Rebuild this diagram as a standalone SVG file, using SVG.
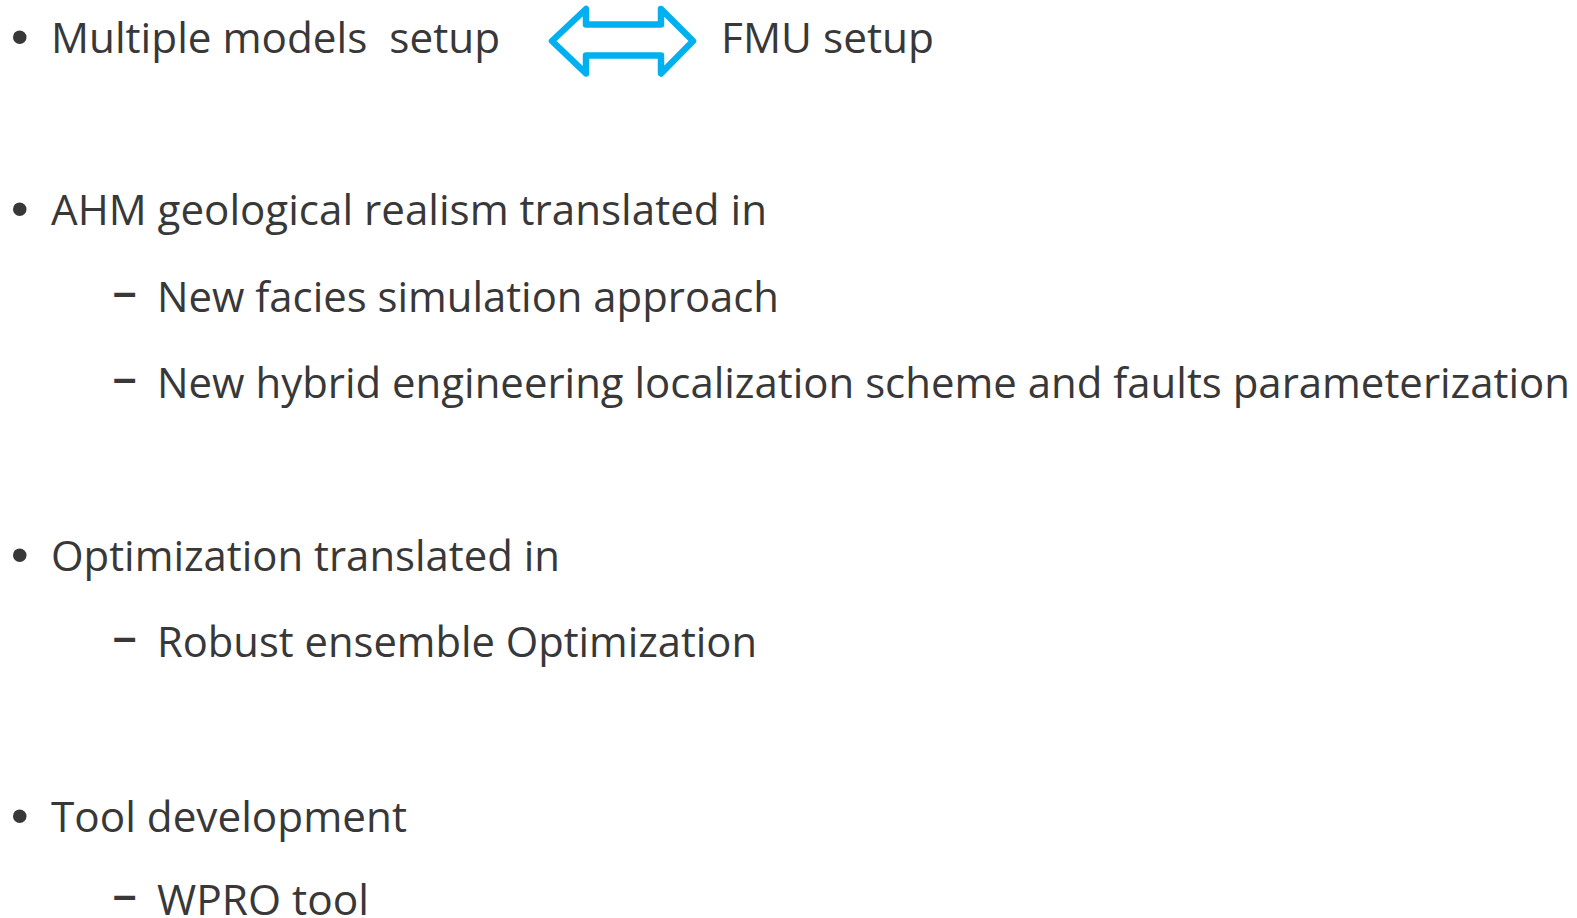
<svg xmlns="http://www.w3.org/2000/svg" width="1577" height="918" viewBox="0 0 1577 918">
<style>
.t{font-family:"Open Sans","Noto Sans",sans-serif;font-size:42px;fill:#383838}
.b{font-family:"Liberation Sans",Arial,sans-serif;font-size:50px;fill:#383838}
.d{font-family:"Liberation Sans",Arial,sans-serif;font-size:42px;font-weight:bold;fill:#383838}
</style>
<rect width="1577" height="918" fill="#ffffff"/>
<g id="item1">
<text class="b" x="11" y="54">•</text>
<text class="t" x="51" y="53" textLength="449" lengthAdjust="spacingAndGlyphs" xml:space="preserve">Multiple models  setup</text>
</g>
<g id="arrow">
<path d="M552,41 L586,9 L586,24.5 L661,24.5 L661,9 L693,41 L661,73.5 L661,55.5 L586,55.5 L586,73.5 Z" fill="#ffffff" stroke="#00B0F0" stroke-width="6.5" stroke-linejoin="round"/>
</g>
<g id="item1b">
<text class="t" x="721" y="53" textLength="213" lengthAdjust="spacingAndGlyphs">FMU setup</text>
</g>
<g id="item2">
<text class="b" x="11" y="226">•</text>
<text class="t" x="51" y="225" textLength="716" lengthAdjust="spacingAndGlyphs">AHM geological realism translated in</text>
</g>
<g id="item2a">
<text class="d" x="113" y="306">–</text>
<text class="t" x="157" y="312" textLength="622" lengthAdjust="spacingAndGlyphs">New facies simulation approach</text>
</g>
<g id="item2b">
<text class="d" x="113" y="392">–</text>
<text class="t" x="157" y="398" textLength="1413" lengthAdjust="spacingAndGlyphs">New hybrid engineering localization scheme and faults parameterization</text>
</g>
<g id="item3">
<text class="b" x="11" y="572">•</text>
<text class="t" x="51" y="571" textLength="509" lengthAdjust="spacingAndGlyphs">Optimization translated in</text>
</g>
<g id="item3a">
<text class="d" x="113" y="651">–</text>
<text class="t" x="157" y="657" textLength="600" lengthAdjust="spacingAndGlyphs">Robust ensemble Optimization</text>
</g>
<g id="item4">
<text class="b" x="11" y="833">•</text>
<text class="t" x="51" y="832" textLength="356" lengthAdjust="spacingAndGlyphs">Tool development</text>
</g>
<g id="item4a">
<text class="d" x="113" y="909">–</text>
<text class="t" x="157" y="915" textLength="212" lengthAdjust="spacingAndGlyphs">WPRO tool</text>
</g>
</svg>
